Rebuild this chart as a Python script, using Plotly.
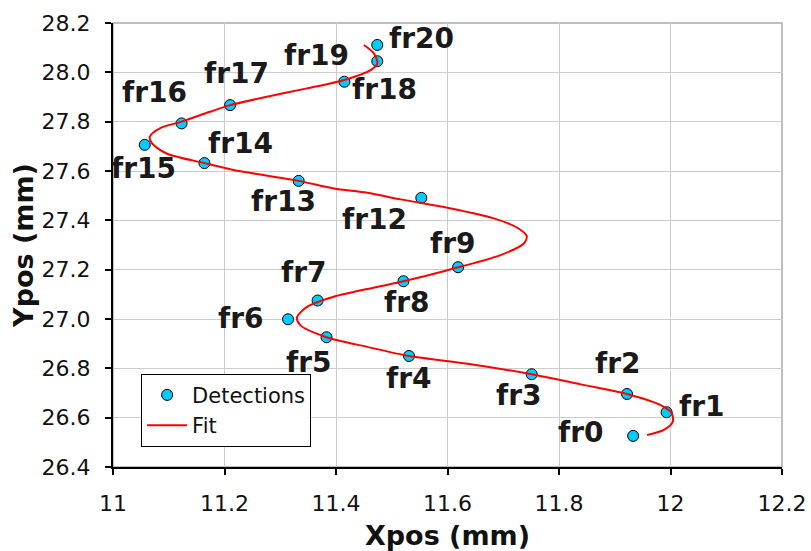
import plotly.graph_objects as go

# Detections (frame labels, x, y in mm)
frame_labels = ["fr0", "fr1", "fr2", "fr3", "fr4", "fr5", "fr6", "fr7", "fr8", "fr9",
                "fr12", "fr13", "fr14", "fr15", "fr16", "fr17", "fr18", "fr19", "fr20"]
det_x = [11.933, 11.993, 11.922, 11.751, 11.531, 11.383, 11.314, 11.367, 11.521, 11.619,
         11.553, 11.333, 11.164, 11.057, 11.123, 11.210, 11.415, 11.474, 11.474]
det_y = [26.526, 26.622, 26.696, 26.776, 26.850, 26.926, 26.999, 27.075, 27.153, 27.210,
         27.491, 27.560, 27.632, 27.706, 27.793, 27.867, 27.962, 28.045, 28.111]

# Fit curve
fit_x = [11.958, 11.989, 12.004, 12.002, 11.983, 11.922, 11.839, 11.751, 11.636, 11.531,
         11.456, 11.383, 11.336, 11.330, 11.348, 11.396, 11.474, 11.521, 11.600, 11.695,
         11.737, 11.742, 11.722, 11.683, 11.606, 11.516, 11.456, 11.396, 11.333, 11.216,
         11.164, 11.096, 11.070, 11.066, 11.084, 11.123, 11.174, 11.210, 11.276, 11.348,
         11.415, 11.462, 11.474, 11.468, 11.450]
fit_y = [26.530, 26.552, 26.583, 26.619, 26.650, 26.696, 26.735, 26.776, 26.819, 26.850,
         26.887, 26.926, 26.975, 27.006, 27.049, 27.090, 27.130, 27.153, 27.198, 27.259,
         27.306, 27.337, 27.374, 27.408, 27.448, 27.485, 27.512, 27.529, 27.560, 27.604,
         27.632, 27.671, 27.712, 27.739, 27.773, 27.800, 27.840, 27.867, 27.901, 27.935,
         27.969, 28.009, 28.036, 28.077, 28.111]

x_ticks = [11, 11.2, 11.4, 11.6, 11.8, 12, 12.2]
y_ticks = [26.4, 26.6, 26.8, 27.0, 27.2, 27.4, 27.6, 27.8, 28.0, 28.2]

# label pixel offsets (style)
label_dx = [-53, 35, -10, -13, -1, -18, -48, -14, 3, -6, -47, -15, 36, -1, -27, 6, 40, -61, 44]
label_dy = [3, 6, 30, -21, -22, -25, 1, 28, -21, 24, -22, -21, 20, -24, 31, 32, -8, 6, 6]

fig = go.Figure()
fig.add_trace(go.Scatter(
    x=det_x, y=det_y, mode="markers", name="Detections",
    marker=dict(size=11, color="#00CCFF", line=dict(color="black", width=1)),
))
fig.add_trace(go.Scatter(
    x=fit_x, y=fit_y, mode="lines", name="Fit",
    line=dict(color="#FF0000", width=2, shape="spline", smoothing=0.8),
))

for lab, x, y, dx, dy in zip(frame_labels, det_x, det_y, label_dx, label_dy):
    fig.add_annotation(x=x, y=y, text=lab, showarrow=False, xshift=dx, yshift=dy,
                       font=dict(family="DejaVu Sans", size=28, color="#1a1a1a", weight="bold"))

fig.update_layout(
    width=811, height=551,
    margin=dict(l=113, r=29, t=23, b=84),
    paper_bgcolor="white", plot_bgcolor="white",
    font=dict(family="DejaVu Sans", size=22, color="#111"),
    showlegend=True,
    legend=dict(x=0.042, y=0.21, xanchor="left", yanchor="top",
                bgcolor="white", bordercolor="black", borderwidth=1,
                font=dict(size=21, family="DejaVu Sans", color="#111"),
                tracegroupgap=0, itemwidth=40),
    xaxis=dict(range=[11, 12.2], tickvals=x_ticks, ticktext=[str(v) for v in x_ticks],
               showgrid=True, gridcolor="#cccccc", gridwidth=1,
               showline=True, linecolor="black", linewidth=2, mirror=False,
               ticks="outside", ticklen=6, tickcolor="black", tickwidth=2,
               ticklabelstandoff=10,
               zeroline=False, automargin=False,
               title=dict(text="<b>Xpos (mm)</b>", font=dict(size=27, family="DejaVu Sans", color="#111"), standoff=12)),
    yaxis=dict(range=[26.4, 28.2], tickvals=y_ticks, ticktext=["%.1f" % v for v in y_ticks],
               showgrid=True, gridcolor="#cccccc", gridwidth=1,
               showline=True, linecolor="black", linewidth=2,
               ticks="outside", ticklen=6, tickcolor="black", tickwidth=2,
               ticklabelstandoff=10,
               zeroline=False, automargin=False,
               title=dict(text="<b>Ypos (mm)</b>", font=dict(size=27, family="DejaVu Sans", color="#111"), standoff=0)),
    shapes=[dict(type="rect", xref="paper", yref="paper", x0=0, y0=0, x1=1, y1=1,
                 line=dict(color="#aaaaaa", width=1.5), layer="below")],
)

fig.write_html("out.html")
